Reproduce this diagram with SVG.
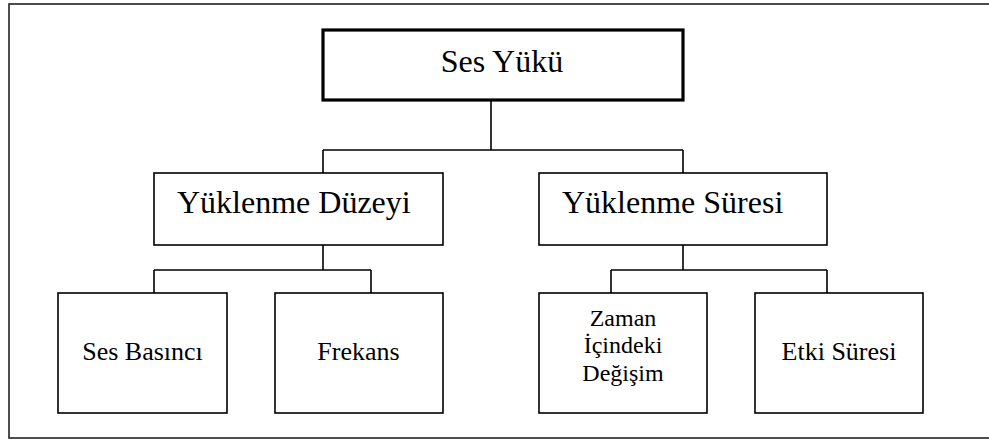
<svg xmlns="http://www.w3.org/2000/svg" width="989" height="441" viewBox="0 0 989 441" font-family="'Liberation Serif', 'Times New Roman', serif">
<style>
.box{fill:#fff;stroke:#000;stroke-width:1.6}
.top{fill:#fff;stroke:#000;stroke-width:3.2}
.frame{fill:none;stroke:#222;stroke-width:1.6}
.conn{fill:none;stroke:#000;stroke-width:1.6}
.t{font-family:'Liberation Serif','Times New Roman',serif;fill:#000}
.l{font-size:32px}
.s{font-size:26px}
.xs{font-size:24px}
</style>
<rect width="989" height="441" fill="#fff"/>
<rect class="frame" x="9" y="4" width="1000" height="434"/>
<g id="connectors">
<path class="conn" d="M491 100V150M323 150H683M323 150V173M683 150V173"/>
<path class="conn" d="M323 245V270M154 270H371M154 270V293M371 270V293"/>
<path class="conn" d="M683 245V270M611 270H827M611 270V293M827 270V293"/>
</g>
<g id="ses-yuku">
<rect class="top" x="323" y="30" width="360" height="70"/>
<text class="t l" x="502" y="72" text-anchor="middle">Ses Yükü</text>
</g>
<g id="yuklenme-duzeyi">
<rect class="box" x="154" y="173" width="289" height="72"/>
<text class="t l" x="177" y="213">Yüklenme Düzeyi</text>
</g>
<g id="yuklenme-suresi">
<rect class="box" x="539" y="173" width="288" height="72"/>
<text class="t l" x="562" y="213">Yüklenme Süresi</text>
</g>
<g id="ses-basinci">
<rect class="box" x="58" y="293" width="169" height="120"/>
<text class="t s" x="142.5" y="360" text-anchor="middle">Ses Basıncı</text>
</g>
<g id="frekans">
<rect class="box" x="275" y="293" width="168" height="120"/>
<text class="t s" x="358.5" y="360" text-anchor="middle">Frekans</text>
</g>
<g id="zaman">
<rect class="box" x="539" y="293" width="168" height="120"/>
<text class="t xs" text-anchor="middle"><tspan x="623" y="326">Zaman</tspan><tspan x="623" y="353">İçindeki</tspan><tspan x="623" y="381">Değişim</tspan></text>
</g>
<g id="etki-suresi">
<rect class="box" x="755" y="293" width="168" height="120"/>
<text class="t s" x="839" y="360" text-anchor="middle">Etki Süresi</text>
</g>
</svg>
